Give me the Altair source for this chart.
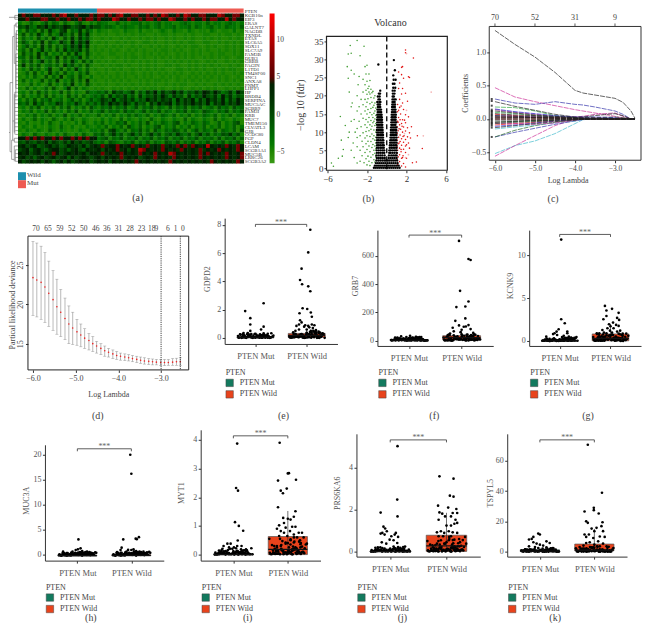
import altair as alt
import pandas as pd

SERIF = "Liberation Serif"
CW, CH = 158, 205
def origin(col, row):
    return 8 + CW * col, 8 + CH * row

ONE = alt.Data(values=[{"a": 1}])
def T(s, X, Y, ox, oy, size=8, color="#444", angle=0, align="center"):
    return alt.Chart(ONE).mark_text(text=s, font=SERIF, fontSize=size, color=color, angle=angle,
                                    align=align, baseline="middle").encode(
        x=alt.value(X - ox), y=alt.value(Y - oy))
def frame(x0, x1, y0, y1, ox, oy, color="#222", w=1.0):
    return alt.Chart(ONE).mark_rect(fill=None, stroke=color, strokeWidth=w).encode(
        x=alt.value(x0 - ox), x2=alt.value(x1 - ox), y=alt.value(y0 - oy), y2=alt.value(y1 - oy))

# ---------- (a) heat map ----------
GENES = ["KGB10n","EIF3","ERAS","GALNT7","NAGDB","TXNDL","ETAS","SLC6A5","SOX11","SLC7A9","FAM3B","DUB3",
         "GBBB","FAGIN","L1TD1","TM4SF00","SNC1","ANXA8","PNMT","LHFP1","HP","BRDB4","SERPINA","MUC5AC",
         "SGBB9","FAM3I","KRB","MUC7","TMEM150","CLVATL3","GJB","CCDC80","FGF","CLDN4","LCAM","SCGB1A1",
         "MUC5B","LRRC26","SCGB3A2"]
HEAT = [
 "7877887778 7897787778 7887878977 8877878798 7787987788 7779877887",
 "7787778877 8778778788 7877798778 7787887877 9877878778 7887797877",
 "3124213524 3142135213 2433224232 3342323423 3223432332 4233234323",
 "5464365746 5576456746 5534432343 3243423423 3423342432 3423243324",
 "3153415263 2561436253 1322122132 2131221232 1322132122 1321221312",
 "2514263152 3642516362 1212112121 2122112122 1211212112 2112122121",
 "1423152416 3152626352 1121211212 1121212112 1211212112 1212112121",
 "2531426153 2642736472 1212112121 2112212112 1212122112 2112121212",
 "1352416251 4253647361 2112121211 2121121212 1121212211 2121121212",
 "2415136241 5263546251 2121212112 1212112122 1212112121 2112121212",
 "1524162513 2415263152 1211221121 2112121212 1121212121 1212211212",
 "3415261342 6152436141 2121112121 2212112121 2121212112 1212121122",
 "1425136241 5142631524 1212121121 2121212112 1212121211 2121121212",
 "2614251342 4163524152 1121212212 1121212112 2121121212 1212112121",
 "1315241361 2514263141 2112121211 2121212121 1122121212 1121212211",
 "1241513162 4152314251 1212112121 2112121212 1212112121 2121211212",
 "2131421514 2613415213 1121212121 1212121121 2121121212 1212121121",
 "1413125142 6132514161 2112121212 1121212212 1121212121 2112121212",
 "1214131251 3142613152 1212112121 2121212112 1212211212 1121212121",
 "2141312415 2136141321 2121121212 1212122121 1212112121 2121121212",
 "2314152413 2514132153 3435264534 6253647364 5746354647 6475346375",
 "1413241514 2315241423 4352635463 5263546475 3645263547 5463746354",
 "3142514352 3413524135 3465473564 6354756465 6374657364 7564736475",
 "4352635243 6524364253 5364756475 3645264756 7364657564 7365746575",
 "2314251324 1425132415 3243524352 3524352432 5243524352 3425342534",
 "1324132514 2314251324 2352434253 4235243524 3243524325 4324352435",
 "2132413241 3251324132 2413241324 2432413243 2413241324 3241324132",
 "1312413214 2131421321 2131321413 2132142132 1321413213 2141321321",
 "2131213142 1312131421 3241324351 3242513243 2451324324 3124132451",
 "1321312132 1421312132 2324132415 3241324513 2413241324 1324132413",
 "2132132142 1321213213 3241563241 4352415324 3542413524 3251432415",
 "1321421321 3142131421 4352463524 6352463524 5364352463 5243546352",
 "7787878778 7877878787 7345243524 3524352435 2435243524 3425243524",
 "5465465746 5464756456 4342543243 5243524325 4352435243 5243524352",
 "6756745675 6457665746 7686778767 8676867686 7687868767 9767687687",
 "5674675467 7564675476 6757678675 7698767687 6768767686 7678767687",
 "7675675768 7567676757 7686767876 7687678767 9876767687 8767687678",
 "6756467567 5674756765 6757676867 6756768767 6876767687 6767687678",
 "7567675764 6757567675 6767576767 6876767676 8767676767 6876767687",
]
LEVELS = {"1": -5.0, "2": -4.4, "3": -3.4, "4": -1.8, "5": -0.2, "6": 2.0, "7": 4.6, "8": 6.6, "9": 10.0}
heat_rows = []
for r, row in enumerate(HEAT):
    s = row.replace(" ", "")
    for c, ch in enumerate(s):
        heat_rows.append({"c": c, "c1": c + 1.12, "r": r, "r1": r + 1.08, "v": LEVELS[ch]})
heat_df = pd.DataFrame(heat_rows)

DEND = [
 (0,17,1,1),(11,17,0.5,0.5),(11,17,1.5,1.5),(11,11,0.5,1.5),(2,2,18,36),(2,7,18,18),(0,2,31,31),(7,7,6,33),
 (7,10,6,6),(7,10,28,28),(10,10,3,13),(10,15,3,3),(10,13,13,13),(13,17,2.5,2.5),(13,17,3.5,3.5),(13,13,2.5,3.5),
 (13,13,5,22),(13,17,4.5,4.5),(13,17,5.5,5.5),(13,17,6.5,6.5),(13,17,7.5,7.5),(14,17,8.5,8.5),(14,17,9.5,9.5),(14,14,4.5,9.5),
 (13,17,10.5,10.5),(13,17,11.5,11.5),(13,17,12.5,12.5),(13,17,13.5,13.5),(13,17,14.5,14.5),(13,17,15.5,15.5),
 (13,17,16.5,16.5),(13,17,17.5,17.5),(13,17,18.5,18.5),(13,17,19.5,19.5),(13,13,10.5,19.5),
 (10,10,21,31),(11,17,20.5,20.5),(11,17,21.5,21.5),
 (11,17,22.5,22.5),(11,17,23.5,23.5),(11,17,24.5,24.5),(11,17,25.5,25.5),(12,17,26.5,26.5),(12,17,27.5,27.5),(11,17,28.5,28.5),
 (11,17,29.5,29.5),(12,17,30.5,30.5),(12,17,31.5,31.5),(11,11,20.5,31.5),
 (2,5,36,36),(5,5,33,38),(5,10,33,33),(5,10,38,38),(10,17,32.5,32.5),(10,17,33.5,33.5),(10,10,32.5,33.5),
 (10,17,34.5,34.5),(12,17,35.5,35.5),(12,17,36.5,36.5),(12,17,37.5,37.5),(12,17,38.5,38.5),(12,12,35.5,38.5),(10,10,34.5,38.5),
]
ANNOT = [{"a": 0, "b": 21, "col": "#1d8fae"}, {"a": 21, "b": 60, "col": "#ee5a52"}]
SWATCH = [{"y": 172, "y2": 180, "col": "#1d8fae"}, {"y": 180, "y2": 188, "col": "#ee5a52"}]

def panel_a():
    ox, oy = origin(0, 0)
    HX0, HX1, HY0, HY1 = 17, 243, 13, 163
    sx = alt.Scale(domain=[0, 60], range=[HX0 - ox, HX1 - ox], nice=False, zero=False)
    sy = alt.Scale(domain=[0, 39], range=[HY0 - oy, HY1 - oy], nice=False, zero=False)
    heat = alt.Chart(heat_df).mark_rect(strokeWidth=0).encode(
        x=alt.X("c:Q", scale=sx, axis=None), x2="c1:Q",
        y=alt.Y("r:Q", scale=sy, axis=None), y2="r1:Q",
        color=alt.Color("v:Q", scale=alt.Scale(domain=[-6.5, 5, 13.5], range=["#3a9a18", "#000000", "#ff0000"]),
                        legend=alt.Legend(orient="none", legendX=269 - ox, legendY=HY0 - oy, title=None,
                                          direction="vertical", gradientLength=150, gradientThickness=5,
                                          gradientStrokeWidth=0, values=[-5, 0, 5, 10], labelFont=SERIF,
                                          labelFontSize=7.5, labelColor="#444", padding=0)))
    ann = alt.Chart(pd.DataFrame(ANNOT)).mark_rect().encode(
        x=alt.X("a:Q", scale=sx, axis=None), x2="b:Q",
        y=alt.value(8 - oy), y2=alt.value(12.2 - oy),
        fill=alt.Fill("col:N", scale=None))
    lab = alt.Chart(pd.DataFrame({"g": GENES, "r": [i + 0.5 for i in range(len(GENES))]})).mark_text(
        font=SERIF, fontSize=5, align="left", baseline="middle", color="#333").encode(
        x=alt.value(244 - ox), y=alt.Y("r:Q", scale=sy, axis=None), text="g:N")
    dn = pd.DataFrame(DEND, columns=["x1", "x2", "y1", "y2"])
    dsx = alt.Scale(domain=[0, 17], range=[8 - ox, 17 - ox], nice=False, zero=False)
    dend = alt.Chart(dn).mark_rule(color="#666", strokeWidth=0.6).encode(
        x=alt.X("x1:Q", scale=dsx, axis=None), x2="x2:Q",
        y=alt.Y("y1:Q", scale=sy, axis=None), y2="y2:Q")
    sw = alt.Chart(pd.DataFrame(SWATCH)).mark_rect().encode(
        x=alt.value(17 - ox), x2=alt.value(25 - ox),
        y=alt.Y("y:Q", scale=alt.Scale(domain=[8, 8 + CH], range=[0, CH], nice=False, zero=False), axis=None),
        y2="y2:Q", fill=alt.Fill("col:N", scale=None))
    return (alt.layer(heat, ann, lab, dend, sw, T("PTEN", 244, 10.5, ox, oy, size=5, align="left", color="#333"),
                      T("Wild", 26, 175, ox, oy, size=7, align="left"), T("Mut", 26, 183, ox, oy, size=7, align="left"),
                      T("(a)", 137, 198, ox, oy, size=10))
            .resolve_scale(x="independent", y="independent", color="independent", fill="independent")
            .properties(width=CW, height=CH))

# ---------- (b) volcano ----------
VOL_BLACK = [
 (0.2,[-1.3,-1.1,-.9,-.7,-.5,-.3,-.1,.1,.3,.5,.7,.9,1.1,1.3]),
 (0.8,[-1.2,-1.0,-.8,-.6,-.4,-.2,0,.2,.4,.6,.8,1.0,1.2]),
 (1.5,[-1.1,-.9,-.7,-.5,-.3,-.1,.1,.3,.5,.7,.9,1.1]),
 (2.2,[-1.05,-.85,-.65,-.45,-.25,-.08,.08,.25,.45,.65,.85,1.05]),
 (2.9,[-1.0,-.8,-.6,-.4,-.2,.2,.4,.6,.8,1.0]),
 (3.6,[-1.05,-.85,-.65,-.45,-.22,.22,.45,.65,.85,1.0]),
 (4.3,[-1.0,-.8,-.6,-.4,-.25,.25,.4,.6,.8,1.02]),
 (5.0,[-1.02,-.82,-.62,-.42,-.26,.27,.42,.62,.82,.98]),
 (5.7,[-1.0,-.84,-.66,-.48,-.3,.3,.46,.64,.82,1.0]),
 (6.4,[-.98,-.8,-.62,-.44,-.3,.32,.48,.66,.84,.98]),
 (7.1,[-1.0,-.84,-.66,-.5,-.34,.34,.5,.66,.82,1.0]),
 (7.8,[-.98,-.82,-.64,-.46,-.35,.36,.52,.68,.84,.96]),
 (8.5,[-1.0,-.84,-.68,-.52,-.38,.38,.52,.68,.82,1.0]),
 (9.2,[-.96,-.8,-.64,-.5,-.38,.4,.54,.7,.84,.98]),
 (9.9,[-.98,-.82,-.66,-.52,-.4,.42,.56,.7,.86,.98]),
 (10.6,[-1.0,-.84,-.68,-.54,-.42,.42,.56,.7,.84,.96]),
 (11.3,[-.96,-.82,-.68,-.54,-.44,.44,.58,.72,.86,.98]),
 (12.0,[-.98,-.84,-.7,-.56,-.45,.46,.6,.74,.88]),
 (12.7,[-.96,-.82,-.68,-.56,-.47,.46,.6,.74,.88,.96]),
 (13.4,[-.98,-.84,-.7,-.58,-.48,.48,.62,.76,.9]),
 (14.1,[-.94,-.82,-.7,-.58,-.5,.5,.62,.76,.9]),
 (14.8,[-.96,-.84,-.72,-.6,-.52,.5,.64,.78,.92]),
 (15.5,[-.92,-.8,-.68,-.56,.52,.64,.78,.9]),
 (16.2,[-.94,-.82,-.7,-.58,.54,.66,.8,.88]),
 (16.9,[-.9,-.78,-.66,.54,.68,.82]),
 (17.6,[-.92,-.8,-.68,.56,.7,.84]),
 (18.3,[-.96,-.76,-.64,.58,.72,.8]),
 (19.0,[-.84,-.7,.58,.74,.9]),
 (19.8,[-.9,-.72,.6,.72]),
 (20.6,[-.8,-.68,.62,.78]),
 (21.4,[-.66,.6,.8]),
 (22.2,[.66,.86]),(23.3,[.62,.78]),(24.4,[.7,.9]),(25.6,[.66]),(27.0,[.82]),(28.6,[-.85]),(29.8,[.72]),
]
VOL_GREEN = [(-5.6,1.5),(-5.4,.6),(-4.9,2.8),(-4.5,3.4),(-4.4,5.2),(-4.6,7.8),(-4.7,14.3),(-4.2,11.8),(-3.9,8.5),(-3.8,10),(-3.6,13),
 (-4.0,28),(-3.9,24.8),(-3.9,31.5),(-3.6,31.7),(-3.7,33.8),(-3.0,35.2),(-2.3,33.6),(-2.7,31),(-2.8,25.3),(-3.6,27),(-3.3,26),(-3.8,21),(-3.5,18),(-3.6,17),
 (-3.3,13.5),(-3.2,10),(-3.4,7),(-3.6,5),(-3.3,3),(-3.0,1.5),(-3,6),(-3,8.5),(-3,11),(-3,15.8),(-3,20),(-2.9,23),(-2.8,17),(-2.8,13),(-2.7,9),(-2.7,5),(-2.7,2),
 (-2.6,19),(-2.6,15),(-2.6,11.5),(-2.5,7.5),(-2.5,3.5),(-2.4,24.5),(-2.4,21),(-2.4,17.5),(-2.4,13.8),(-2.4,9.8),(-2.4,6),(-2.3,1.6),
 (-2.2,28),(-2.2,23),(-2.2,19),(-2.2,15.8),(-2.2,12),(-2.2,8.4),(-2.2,4.4),(-2.1,26),(-2.1,21.5),(-2.1,17),(-2.1,13.5),(-2.1,10.2),(-2.1,6.8),(-2.1,2.7),
 (-2,28.4),(-2,24),(-2,20.4),(-2,18.2),(-2,15),(-2,11.3),(-2,9),(-2,5.2),(-2,1),(-1.9,22),(-1.9,19.2),(-1.9,16.2),(-1.9,12.8),(-1.9,7.5),(-1.9,3.4),
 (-1.8,26),(-1.8,22.6),(-1.8,21),(-1.8,14),(-1.8,10.4),(-1.8,6.2),(-1.8,2),(-1.7,24.2),(-1.7,20.5),(-1.7,17.8),(-1.7,15.4),(-1.7,12),(-1.7,8.8),(-1.7,4.6),(-1.7,.8),
 (-1.6,21.8),(-1.6,19.5),(-1.6,16.5),(-1.6,13.2),(-1.6,10.8),(-1.6,7.4),(-1.6,3.1),(-1.5,20.8),(-1.5,18.2),(-1.5,14.8),(-1.5,11.6),(-1.5,9.5),(-1.5,5.8),(-1.5,1.6),
 (-1.4,21.2),(-1.4,16.8),(-1.4,14),(-1.4,12.6),(-1.4,8.2),(-1.4,6.6),(-1.4,3.8),(-1.3,19.4),(-1.3,17.4),(-1.3,15.2),(-1.3,13),(-1.3,10.6),(-1.3,9),(-1.3,5),(-1.3,2.4),
 (-1.2,20),(-1.2,18),(-1.2,15.8),(-1.2,13.6),(-1.2,11.8),(-1.2,7.8),(-1.2,6.2),(-1.2,4.2),(-1.2,1.8),(-1.1,16.6),(-1.1,14.6),(-1.1,12.4),(-1.1,10),(-1.1,8.6),(-1.1,7),(-1.1,5.4),(-1.1,3.2)]
VOL_RED = [(1.9,32.6),(1.9,31.8),(2.7,30.4),(1.5,27.8),(1.6,28),(1.5,25.8),(1.2,26.5),(2.3,25),(2.2,25.2),(1.7,24.8),(1.3,23.5),(1.6,22),(1.2,22),(1.5,20.5),(1.9,20.7),
 (2.1,18.5),(1.3,19),(1.6,18),(1.1,17.6),(1.3,16.8),(1.7,16.2),(1.1,15.6),(1.4,15),(1.9,14.8),(2.2,14.2),(1.2,14),(1.6,13.4),(1.1,13),(1.5,12.4),(1.9,12.6),
 (1.3,12),(1.05,11.5),(1.7,11.4),(2.1,11.2),(2.5,11.5),(1.4,10.8),(1.15,10.4),(1.9,10.3),(1.6,10),(2.3,9.8),(3.1,9),(1.05,9.6),(1.35,9.2),(1.75,9),(2.1,8.7),
 (1.2,8.6),(1.5,8.2),(1.9,8),(1.05,7.8),(1.35,7.4),(1.7,7.2),(2.2,7),(1.15,6.8),(1.5,6.4),(1.9,6.2),(1.05,6),(1.3,5.6),(1.7,5.3),(2.3,5.6),(3.6,5.5),
 (1.1,5),(1.45,4.6),(1.9,4.4),(1.05,4.2),(1.3,3.8),(1.65,3.5),(1.15,3.2),(1.5,2.8),(2.0,2.8),(1.05,2.4),(1.3,1.9),(1.7,1.4),(2.6,1.6),(3.0,1.8),(1.1,1),(1.5,.7),(1.9,.4),
 (1.2,16),(1.45,17.2),(1.25,10.9),(1.55,11.6),(1.8,13.3),(2.0,6.5),(2.4,8.4),(1.6,3),(1.25,7),(1.45,5.2),(1.65,8.8),(1.35,13.4),(1.15,12.7)]
VOL_PALE = [(4.5,21),(3.7,9),(2.0,16),(1.8,9.6),(2.2,3.8),(1.9,3),(2.0,31.6)]

def panel_b():
    ox, oy = origin(2, 0)
    X0, X1, Y0, Y1 = 326, 447, 36, 170
    sx = alt.Scale(domain=[-6.1, 6.13], range=[X0 - ox, X1 - ox], nice=False, zero=False)
    sy = alt.Scale(domain=[-0.47, 36.3], range=[Y1 - oy, Y0 - oy], nice=False, zero=False)
    black = [(x, y) for y, xs in VOL_BLACK for x in xs]
    ax = alt.Axis(values=[-6, -4, -2, 0, 2, 4, 6], title=None, grid=False, orient="bottom",
                  offset=(Y1 - oy) - CH, labelFont=SERIF, labelFontSize=9, labelColor="#333",
                  tickSize=2.5, tickColor="#333", domain=False, labelPadding=2, format="d", labelFlush=False)
    ay = alt.Axis(values=[0, 5, 10, 15, 20, 25, 30, 35], title=None, grid=False, orient="left",
                  offset=-(X0 - ox), labelFont=SERIF, labelFontSize=9, labelColor="#333", tickSize=2.5, tickColor="#333",
                  domain=False, labelPadding=1, labelFlush=False)
    def layer(pts, col, size):
        return alt.Chart(pd.DataFrame(pts, columns=["x", "y"])).mark_circle(color=col, size=size, opacity=1).encode(
            x=alt.X("x:Q", scale=sx, axis=ax), y=alt.Y("y:Q", scale=sy, axis=ay))
    v = alt.Chart(pd.DataFrame({"x": [0]})).mark_rule(color="black", strokeWidth=1.3, strokeDash=[5, 3]).encode(
        x=alt.X("x:Q", scale=sx), y=alt.value(Y0 - oy), y2=alt.value(Y1 - oy))
    return alt.layer(layer(VOL_GREEN, "#3d9b2e", 2.4), layer(VOL_RED, "#e01414", 2.4), layer(VOL_PALE, "#f5b5b5", 3),
                     layer(black, "#000000", 5.5), v, frame(X0, X1, Y0, Y1, ox, oy, w=1.2),
                     T("Volcano", 390, 23, ox, oy, size=10, color="#333"),
                     T("−log 10 (fdr)", 300, 105, ox, oy, size=10, color="#333", angle=270),
                     T("(b)", 368, 199, ox, oy, size=10)).properties(width=CW, height=CH)

# ---------- (c) coefficient paths ----------
PATH_X = [-6, -5.5, -5, -4.5, -4, -3.8, -3.5, -3, -2.8, -2.6, -2.5]
PATH_MAIN = [
 ("#ee1111", [.07, .05, .04, .02, .01, .01, .01, 0, 0, 0, 0]),
 ("#33aa44", [.18, .17, .12, .05, .02, .01, 0, 0, 0, 0, 0]),
 ("#cc3399", [.47, .33, .26, .20, .14, .12, .09, .04, .01, 0, 0]),
 ("#3333aa", [.30, .24, .22, .26, .22, .21, .18, .12, .07, 0, 0]),
 ("#44bbcc", [-.52, -.40, -.33, -.22, -.07, -.01, 0, 0, 0, 0, 0]),
 ("#cc3399", [-.56, -.40, -.25, -.10, 0, 0, 0, 0, 0, 0, 0]),
 ("#3333aa", [-.27, -.20, -.14, -.08, -.03, -.01, 0, 0, 0, 0, 0]),
 ("#226622", [-.27, -.17, -.10, -.05, 0, 0, 0, 0, 0, 0, 0]),
 ("#aa2288", [.14, .10, .07, .04, .03, .04, .07, .09, .04, 0, 0]),
 ("#2222cc", [.15, .11, .08, .05, .03, .03, .03, .02, 0, 0, 0]),
 ("#33aa44", [.10, .08, .05, .03, .02, .01, 0, 0, 0, 0, 0]),
 ("#ee1111", [-.09, -.07, -.05, -.03, -.01, 0, 0, 0, 0, 0, 0]),
 ("#2222cc", [.05, .04, .03, .03, .02, .02, .01, .01, 0, 0, 0]),
 ("#33aa44", [-.05, -.04, -.03, -.02, -.01, 0, 0, 0, 0, 0, 0]),
 ("#2222cc", [-.11, -.09, -.06, -.03, -.01, 0, 0, 0, 0, 0, 0]),
 ("#ee1111", [.03, .03, .02, .02, .01, .01, 0, 0, 0, 0, 0]),
 ("#44bbcc", [-.15, -.12, -.09, -.06, -.03, 0, 0, 0, 0, 0, 0]),
 ("#cc3399", [-.06, -.07, -.08, -.06, -.02, 0, 0, 0, 0, 0, 0]),
 ("#ee1111", [0, 0, 0, 0, 0, 0, 0, 0, 0, 0, 0]),
 ("#222222", [.26, .19, .13, .07, .03, .03, .05, .08, .05, 0, 0]),
 ("#222222", [.12, .09, .06, .04, .02, .02, .02, .03, .02, 0, 0]),
 ("#222222", [.08, .06, .05, .03, .02, .01, .01, 0, 0, 0, 0]),
 ("#222222", [-.03, -.03, -.02, -.01, 0, 0, 0, 0, 0, 0, 0]),
 ("#222222", [-.07, -.05, -.04, -.02, -.01, 0, 0, 0, 0, 0, 0]),
 ("#222222", [-.13, -.10, -.07, -.04, -.02, 0, 0, 0, 0, 0, 0]),
 ("#222222", [.02, .02, .02, .01, .01, 0, 0, 0, 0, 0, 0]),
 ("#222222", [.01, .01, .01, .01, 0, 0, 0, 0, 0, 0, 0]),
 ("#222222", [.05, .04, .03, .02, .01, 0, 0, 0, 0, 0, 0]),
 ("#222222", [-.01, -.01, -.01, 0, 0, 0, 0, 0, 0, 0, 0]),
 ("#222222", [.035, .025, .02, .015, .01, 0, 0, 0, 0, 0, 0]),
 ("#222222", [-.05, -.035, -.025, -.015, 0, 0, 0, 0, 0, 0, 0]),
 ("#222222", [1.33, 1.12, .93, .70, .43, .39, .36, .31, .25, .12, .01]),
]
RUG_Y = [.30, .27, .20, .14, .12, .10, .08, .06, .04, .02, 0, -.02, -.04, -.06, -.08, -.10, -.13, -.27]
C_TOP = [(-6, "70"), (-5, "52"), (-4, "31"), (-3, "9")]

def panel_c():
    ox, oy = origin(3, 0)
    X0, X1, Y0, Y1 = 489, 641, 26, 160
    sx = alt.Scale(domain=[-6.143, -2.35], range=[X0 - ox, X1 - ox], nice=False, zero=False)
    sy = alt.Scale(domain=[-0.62, 1.39], range=[Y1 - oy, Y0 - oy], nice=False, zero=False)
    rows = []
    for i, (col, ys) in enumerate(PATH_MAIN):
        for x, y in zip(PATH_X, ys):
            rows.append({"x": x, "y": y, "id": f"s{i:02d}", "col": col})
    ax = alt.Axis(values=[-6, -5.5, -5, -4.5, -4, -3.5, -3, -2.5], title=None, grid=False, orient="bottom", offset=(Y1 - oy) - CH,
                  labelFont=SERIF, labelFontSize=7.5, labelColor="#444", tickSize=2.5, tickColor="#333", domain=False,
                  labelPadding=2, format=".1f", labelFlush=False, labelOverlap=False)
    ay = alt.Axis(values=[-.5, 0, .5, 1], title=None, grid=False, orient="left", offset=-(X0 - ox), labelFont=SERIF,
                  labelFontSize=8, labelColor="#444", tickSize=2.5, tickColor="#333", domain=False, labelPadding=1,
                  format=".1f", labelFlush=False)
    lines = alt.Chart(pd.DataFrame(rows)).mark_line(strokeWidth=0.7, strokeDash=[5, 1]).encode(
        x=alt.X("x:Q", scale=sx, axis=ax), y=alt.Y("y:Q", scale=sy, axis=ay),
        detail="id:N", stroke=alt.Stroke("col:N", scale=None))
    rug = alt.Chart(pd.DataFrame({"y": RUG_Y})).mark_square(color="black", size=4).encode(
        x=alt.value(491.5 - ox), y=alt.Y("y:Q", scale=sy))
    top = pd.DataFrame(C_TOP, columns=["x", "t"])
    tick = alt.Chart(top).mark_rule(color="#333", strokeWidth=0.8).encode(
        x=alt.X("x:Q", scale=sx), y=alt.value(23 - oy), y2=alt.value(26 - oy))
    ttxt = alt.Chart(top).mark_text(font=SERIF, fontSize=8, color="#444").encode(
        x=alt.X("x:Q", scale=sx), y=alt.value(18 - oy), text="t:N")
    return alt.layer(lines, rug, tick, ttxt, frame(X0, X1, Y0, Y1, ox, oy, color="#333"),
                     T("Coefficients", 466, 93, ox, oy, size=8, angle=270),
                     T("Log Lambda", 568, 181, ox, oy, size=8),
                     T("(c)", 553, 199, ox, oy, size=10)).properties(width=CW, height=CH)

# ---------- (d) cross-validation ----------
CV_X = [-6.0,-5.91,-5.81,-5.72,-5.63,-5.53,-5.44,-5.35,-5.25,-5.16,-5.07,-4.97,-4.88,-4.79,-4.69,-4.6,-4.51,-4.41,-4.32,-4.23,
        -4.13,-4.04,-3.95,-3.85,-3.76,-3.67,-3.57,-3.48,-3.39,-3.29,-3.2,-3.11,-3.01,-2.92,-2.83,-2.73,-2.64,-2.55]
CV_MEAN = [23.4,23.1,22.8,22.2,21.4,20.6,19.7,19.0,18.2,17.5,17.0,16.5,16.1,15.7,15.4,15.0,14.7,14.4,14.1,13.9,
           13.7,13.5,13.4,13.3,13.2,13.1,13.0,12.9,12.8,12.75,12.7,12.65,12.6,12.6,12.6,12.65,12.7,12.7]
CV_HI = [28.0,27.8,27.4,26.6,25.5,24.3,23.2,21.9,20.8,19.8,19.0,18.1,17.5,16.9,16.3,15.9,15.3,15.0,14.7,14.4,
         14.2,14.0,13.8,13.7,13.6,13.5,13.4,13.3,13.2,13.1,13.05,13.0,13.0,13.0,13.0,13.1,13.15,13.2]
CV_LO = [18.6,18.4,18.1,17.7,17.2,16.7,16.2,15.9,15.5,15.0,14.9,14.8,14.6,14.4,14.2,14.0,13.8,13.6,13.4,13.3,
         13.1,13.0,12.9,12.85,12.8,12.7,12.6,12.5,12.4,12.35,12.3,12.3,12.2,12.2,12.25,12.25,12.25,12.25]
D_TOP_X = [-5.93,-5.65,-5.37,-5.09,-4.81,-4.53,-4.27,-4.0,-3.73,-3.46,-3.22,-3.11,-2.84,-2.66,-2.49]
D_TOP_T = ["70","65","59","52","50","46","36","31","28","23","18","9","6","1","0"]
D_VLINES = [-3.0, -2.55]

def panel_d():
    ox, oy = origin(0, 1)
    X0, X1, Y0, Y1 = 27, 188, 236, 370
    sx = alt.Scale(domain=[-6.117, -2.353], range=[X0 - ox, X1 - ox], nice=False, zero=False)
    sy = alt.Scale(domain=[11.66, 28.68], range=[Y1 - oy, Y0 - oy], nice=False, zero=False)
    df = pd.DataFrame({"x": CV_X, "m": CV_MEAN, "hi": CV_HI, "lo": CV_LO})
    ax = alt.Axis(values=[-6, -5.5, -5, -4.5, -4, -3.5, -3, -2.5], title=None, grid=False, orient="bottom", offset=(Y1 - oy) - CH,
                  labelFont=SERIF, labelFontSize=8, labelColor="#444", tickSize=2.5, tickColor="#333", domain=False,
                  labelPadding=2, format=".1f", labelFlush=False, labelOverlap=False)
    ay = alt.Axis(values=[15, 20, 25], title=None, grid=False, orient="left", offset=-(X0 - ox), labelFont=SERIF,
                  labelFontSize=8, labelColor="#444", tickSize=2.5, tickColor="#333", domain=False, labelPadding=1,
                  labelAngle=270, labelAlign="center", labelBaseline="bottom", labelFlush=False)
    bars = alt.Chart(df).mark_rule(color="#9a9a9a", strokeWidth=0.7).encode(
        x=alt.X("x:Q", scale=sx, axis=ax), y=alt.Y("hi:Q", scale=sy, axis=ay), y2="lo:Q")
    capH = alt.Chart(df).mark_tick(color="#888", orient="horizontal", size=3, thickness=0.6).encode(
        x=alt.X("x:Q", scale=sx), y=alt.Y("hi:Q", scale=sy))
    capL = alt.Chart(df).mark_tick(color="#888", orient="horizontal", size=3, thickness=0.6).encode(
        x=alt.X("x:Q", scale=sx), y=alt.Y("lo:Q", scale=sy))
    pts = alt.Chart(df).mark_circle(color="#ee2222", size=2.5, opacity=1).encode(
        x=alt.X("x:Q", scale=sx), y=alt.Y("m:Q", scale=sy))
    vl = alt.Chart(pd.DataFrame({"x": D_VLINES})).mark_rule(color="#111", strokeWidth=0.8, strokeDash=[1.2, 1]).encode(
        x=alt.X("x:Q", scale=sx), y=alt.value(Y0 - oy), y2=alt.value(Y1 - oy))
    top = alt.Chart(pd.DataFrame({"x": D_TOP_X, "t": D_TOP_T})).mark_text(font=SERIF, fontSize=7.5, color="#444").encode(
        x=alt.X("x:Q", scale=sx), y=alt.value(228.5 - oy), text="t:N")
    return alt.layer(bars, capH, capL, pts, vl, top, frame(X0, X1, Y0, Y1, ox, oy, color="#222"),
                     T("Partical likelihood deviance", 12, 305, ox, oy, size=8, angle=270),
                     T("Log Lambda", 108, 395, ox, oy, size=8),
                     T("(d)", 97, 416, ox, oy, size=10)).properties(width=CW, height=CH)

# ---------- (e)-(k) box panels ----------
BASE_JIT = [-.32,.28,-.25,.05,.3,-.12,.18,-.3,.1,-.05,.24,-.2,.14,-.27,.02,.33,-.15,.08,-.34,.2,-.08,.26,-.22,.12,-.02,.31,-.18,.16,-.29,.06,.22,-.1,.29,-.24,0,.35,-.14,.11,-.33,.19]
GROUPS = ["PTEN Mut", "PTEN Wild"]
BOX_COLORS = ["#127a5e", "#e8431c"]

PANELS = [
 dict(gene="GDPD2", cell=(1, 1), X=(224, 337), Y=(218, 344), dom=(-.424, 8.47), ticks=[0, 2, 4, 6, 8], br=8.03, title_x=207, leg_y=369, cap=(283, 416),
      boxes=[(0, .05, .07, 0, .1), (.05, .18, .32, 0, .6)],
      mut=[(-.2,1.9),(-.1,1.4),(-.1,.95),(.16,2.45),(.16,.8),(.11,.6),(-.1,.5)],
      wild=[(.07,7.65),(.03,6.05),(-.1,4.9),(-.13,4.1),(-.09,3.8),(.03,3.65),(.07,3.3),(-.08,2.1),(.01,2.05),(.08,1.8),(-.14,1.75),(.1,1.5),(-.13,1.25),(-.1,1.1),(-.15,.95),(-.2,.85),(-.03,.9),(.03,.85),(.1,.95),(.15,.9),(-.05,.8),(.05,.75),(.12,.7),(-.15,.6),(0,.6),(.18,.55),(-.22,.5)],
      mb=[.02,.05,.1,.15,.03,.2,.08,.25,.12,.01,.3,.06,.18,.04,.22,.09,.35,.02,.14,.07,.28,.11,.03,.17,.05,.33,.01,.13,.24,.06,.1,.19,.04,.27,.02,.16,.08,.21,.03,.12],
      wb=[.03,.1,.2,.05,.3,.15,.4,.02,.25,.08,.35,.12,.45,.04,.18,.28,.06,.5,.13,.01,.22,.38,.09,.16,.02,.32,.07,.42,.11,.19,.03,.27,.14,.06,.36,.01,.23,.1,.05,.17]),
 dict(gene="GRB7", cell=(2, 1), X=(377, 493), Y=(230, 346), dom=(-37.4, 781), ticks=[0, 200, 400, 600], br=746, title_x=356, leg_y=369, cap=(434, 416),
      boxes=[(0, 3, 8, 0, 15), (5, 21, 35, 0, 70)],
      mut=[(-.15,30),(.02,34),(.13,28),(-.05,25),(.2,26),(-.22,22)],
      wild=[(-.05,705),(.13,577),(.17,570),(-.03,352),(.13,277),(-.1,237),(.07,241),(-.12,140),(.07,157),(-.17,91),(-.05,108),(.13,110),(.04,98),(.17,82),(-.15,66),(0,77),(.08,100),(-.22,50),(.22,55),(-.02,60)],
      mb=[1,4,10,18,2,8,22,5,14,1,12,3,25,7,16,2,9,20,4,11,1,6,17,3,13,2,8,21,5,10,1,15,3,7,19,2,6,12,4,9],
      wb=[2,8,20,35,5,14,40,3,25,10,45,1,18,30,6,12,38,2,22,7,16,42,4,28,9,33,1,13,24,5,36,11,19,3,27,8,15,43,6,21]),
 dict(gene="KCNK9", cell=(3, 1), X=(529, 641), Y=(230, 346), dom=(-.58, 12.9), ticks=[0, 5, 10], br=12.4, title_x=511, leg_y=369, cap=(588, 416),
      boxes=[(0, 0, .05, 0, .1), (.02, .3, .82, 0, 2.0)],
      mut=[(.03,11.8),(.03,2.53),(.1,2.06),(-.02,1.36),(-.06,1.09),(-.13,.8),(.15,1.09),(.15,.9),(-.1,.9),(-.05,.7),(.08,.6)],
      wild=[(-.11,4.08),(.03,3.74),(-.08,3.54),(.16,3.27),(-.08,2.9),(.13,2.68),(-.14,2.53),(.17,2.45),(.05,2.14),(-.03,1.95),(.11,1.87),(0,1.71),(.16,1.75),(-.06,1.48),(.06,1.48),(-.16,1.28),(.19,1.2),(-.01,1.2),(-.13,.97),(.13,1.09),(.03,.97),(-.22,.9),(.24,.85)],
      mb=[.02,.1,.25,.4,.05,.15,.5,.03,.3,.08,.2,.01,.35,.12,.04,.45,.07,.18,.02,.28,.09,.13,.06,.22,.01,.33,.11,.04,.17,.26,.03,.08,.38,.05,.14,.02,.21,.1,.06,.16],
      wb=[.05,.2,.4,.7,.1,.3,.8,.03,.5,.15,.6,.02,.35,.9,.08,.25,.75,.12,.45,.01,.65,.18,.55,.06,.28,.85,.1,.38,.04,.22,.7,.14,.48,.02,.32,.6,.09,.42,.16,.26]),
 dict(gene="MUC3A", cell=(0, 2), X=(44, 163), Y=(445, 561), dom=(-1.2, 22), ticks=[0, 5, 10, 15, 20], br=21.2, title_x=26, leg_y=584, cap=(90, 618),
      boxes=[(-.3, -.2, -.1, -.3, 0), (-.25, -.15, -.05, -.3, .05)],
      mut=[(.02,3.05),(.06,1.26),(.01,1.06),(-.03,.93),(.09,.73),(-.09,.6),(.15,.53)],
      wild=[(-.02,20),(0,16.2),(-.15,3.05),(.14,3.5),(.08,3.2),(.1,3.1),(-.18,1.4),(-.2,.93),(0,.93),(.04,1.06),(.09,.73),(-.09,.6),(.15,.6),(-.06,.95)],
      mb=[-.1,.1,.3,.5,0,.2,.6,-.2,.4,.05,.25,-.15,.35,.15,-.05,.45,.08,.28,-.1,.18,.02,.38,-.12,.12,.22,-.02,.32,.07,-.18,.16,.42,.01,.27,-.08,.11,.36,-.03,.19,.06,.24],
      wb=[-.1,.1,.35,.6,0,.2,.5,-.2,.45,.05,.25,-.15,.3,.15,-.05,.55,.08,.4,-.1,.18,.02,.33,-.12,.12,.22,-.02,.38,.07,-.18,.16,.28,.01,.48,-.08,.11,.36,-.03,.19,.06,.24]),
 dict(gene="MYT1", cell=(1, 2), X=(200, 320), Y=(430, 561), dom=(-.21, 4.35), ticks=[0, 1, 2, 3, 4], br=4.14, title_x=181, leg_y=584, cap=(247, 618),
      boxes=[(0, 0, .03, 0, .05), (0, .18, .63, 0, 1.52)],
      mut=[(.07,3.87),(.05,2.32),(.085,2.23),(.03,1.13),(.1,1),(.18,.83),(.08,.49),(-.11,.38),(-.05,.38),(-.18,.3),(.15,.3),(.01,.25),(-.2,.2),(.07,.3),(-.08,.25)],
      wild=[(-.15,3.9),(.02,2.84),(0,2.83),(.15,2.61),(-.18,2.58),(-.02,2.3),(-.13,2.23),(-.09,2.14),(-.18,1.65),(.14,1.51),(0,1.25),(-.085,1.28),(.11,1.32),(.05,1.22),(-.16,1.02),(-.07,1.1),(.08,.97),(-.04,.94),(.14,.97),(-.2,.9),(-.13,.82),(.2,.76),(.26,.76),(.04,.82),(-.07,.76),(.11,.7),(-.16,.65),(-.01,.65),(.17,.6),(-.1,.47),(.05,.53),(-.04,.42),(.11,.42),(-.13,.3),(.23,.36),(.02,.25),(.14,.19),(-.2,.25),(-.085,.13),(.08,.13),(.2,.1),(-.01,.07)],
      mb=[.01,.03,.06,.1,.02,.05,.14,0,.08,.02,.12,.04,.18,.01,.07,.22,.03,.09,0,.15,.05,.02,.11,.04,.2,.01,.06,.13,.03,.08,0,.16,.02,.1,.05,.01,.12,.04,.07,.03],
      wb=[.02,.1,.3,.5,.05,.2,.04,.01,.15,.08,.4,.03,.25,.06,.12,.35,.02,.18,.55,.07,.01,.28,.1,.45,.04,.22,.14,.02,.33,.09,.05,.16,.6,.03,.11,.38,.01,.2,.06,.13]),
 dict(gene="PRS6KA6", cell=(2, 2), X=(356, 480), Y=(434, 557), dom=(-.24, 5.62), ticks=[0, 2, 4], br=5.33, title_x=338, leg_y=584, cap=(402, 618),
      boxes=[(0, 0, .03, 0, .05), (.01, .27, .78, 0, 1.85)],
      mut=[(.13,5.03),(.125,2.48),(.13,1.68),(-.17,1.86),(-.12,1.19),(-.09,1.1),(-.14,.89),(-.06,.97),(.1,.89),(-.17,.86),(-.1,.81),(.14,.7),(-.01,.57),(.06,.54),(-.15,.44),(-.07,.38),(.125,.41),(.08,.81),(.02,.73)],
      wild=[(-.125,3.59),(.125,3.48),(.06,2.67),(.125,2.62),(-.15,2.19),(.03,2.1),(.175,2.03),(-.125,1.87),(-.075,1.81),(.11,1.84),(.19,1.84),(-.025,1.68),(.08,1.68),(.16,1.52),(-.14,1.52),(.19,1.37),(.14,1.33),(0,1.24),(.08,1.24),(-.1,.97),(-.17,.92),(-.04,.89),(.04,.97),(.11,.92),(.19,.89),(-.14,.73),(-.06,.73),(.08,.73),(-.1,.54),(.04,.54),(.14,.57),(-.17,.38),(-.025,.38),(.1,.33),(-.09,.22),(.2,.25),(.02,.13),(-.14,.13),(.14,.1)],
      mb=[.01,.03,.06,.12,.02,.05,.18,0,.09,.03,.14,.04,.22,.01,.07,.1,.03,.16,0,.12,.05,.02,.2,.04,.08,.01,.06,.13,.03,.24,0,.15,.02,.1,.05,.01,.17,.04,.07,.03],
      wb=[.02,.1,.3,.6,.05,.2,.04,.01,.15,.08,.45,.03,.25,.06,.12,.7,.02,.18,.5,.07,.01,.28,.1,.4,.04,.22,.14,.02,.33,.09,.05,.16,.55,.03,.11,.38,.01,.2,.06,.13]),
 dict(gene="TSPYL5", cell=(3, 2), X=(507, 627), Y=(434, 557), dom=(-3.3, 77.8), ticks=[0, 20, 40, 60], br=73.8, title_x=491, leg_y=584, cap=(555, 618),
      boxes=[(0, .3, 1.2, 0, 2.5), (.5, 1, 5, 0, 15)],
      mut=[(-.03,11.9),(0,11.3),(-.12,9.7),(-.2,8),(-.15,8.4),(-.06,5.3),(.12,6.8),(.06,4),(.18,5.7),(-.12,6.2),(0,4.6),(-.2,3.5),(-.09,3),(.12,2.9),(.24,2.4),(-.03,2.4)],
      wild=[(-.12,70.6),(.14,38.9),(-.01,28.9),(-.01,27.4),(-.18,26.5),(.08,25.2),(-.15,20),(.15,19.4),(-.12,19),(.13,16.8),(.04,15.7),(-.05,15.2),(-.18,11.3),(-.1,11.3),(.16,13.5),(0,13.5),(.1,10),(.19,9.7),(-.15,9.7),(-.02,9),(.07,6.8),(-.085,6.2),(-.15,5.7),(.16,5.3),(0,4.6),(-.2,4),(.1,3.5),(-.05,2.9)],
      mb=[.1,.5,1,2,.2,.8,1.5,0,1.2,.3,.6,.1,1.8,.4,.9,0,1.4,.2,.7,2.2,.1,.5,1.1,.3,.6,0,1.6,.2,.8,.4,1,.1,1.3,.3,.5,0,.9,.2,.7,1.7],
      wb=[.1,.8,2,3.5,.4,1.2,.6,0,1.6,.3,2.5,.2,1,3,.5,1.4,0,.7,2.2,.1,.9,.3,1.8,.5,2.8,.1,.6,1.1,.2,3.2,.4,.8,0,1.5,.3,2.4,.1,.7,1.3,.2]),
]

def panel_box(p):
    ox, oy = origin(*p["cell"])
    X0, X1 = p["X"]; Y0, Y1 = p["Y"]
    sx = alt.Scale(domain=[0.4, 2.6], range=[X0 - ox, X1 - ox], nice=False, zero=False)
    sy = alt.Scale(domain=list(p["dom"]), range=[Y1 - oy, Y0 - oy], nice=False, zero=False)
    ax = alt.Axis(values=[1, 2], labelExpr="datum.value==1?'PTEN Mut':'PTEN Wild'", title=None, grid=False, orient="bottom",
                  offset=(Y1 - oy) - CH, labelFont=SERIF, labelFontSize=8.5, labelColor="#555", tickSize=2.5, tickColor="#333",
                  domainColor="#333", labelPadding=5, labelFlush=False, labelOverlap=False, labelAngle=0)
    ay = alt.Axis(values=p["ticks"], title=None, grid=False, orient="left", offset=-(X0 - ox), labelFont=SERIF, labelFontSize=8,
                  labelColor="#555", tickSize=2.5, tickColor="#333", domainColor="#333", labelPadding=1.5, labelFlush=False, format="d")
    box = pd.DataFrame([{"group": GROUPS[i], "a": i + 1 - .36, "b": i + 1 + .36, "c": i + 1, "q1": b[0], "med": b[1], "q3": b[2], "wlo": b[3], "whi": b[4]}
                        for i, b in enumerate(p["boxes"])])
    rects = alt.Chart(box).mark_rect(stroke="#555", strokeWidth=0.7).encode(
        x=alt.X("a:Q", scale=sx, axis=ax), x2="b:Q",
        y=alt.Y("q1:Q", scale=sy, axis=ay), y2="q3:Q",
        color=alt.Color("group:N", scale=alt.Scale(domain=GROUPS, range=BOX_COLORS),
                        legend=alt.Legend(orient="none", legendX=X0 - ox + 1, legendY=p["leg_y"] - oy, title="PTEN", titleFont=SERIF,
                                          titleFontSize=8, titleFontWeight="normal", titleColor="#444", labelFont=SERIF, labelFontSize=8,
                                          labelColor="#444", symbolType="square", symbolSize=55, symbolStrokeWidth=0.5, symbolStrokeColor="#444",
                                          padding=0, rowPadding=1.5, titlePadding=2, labelOffset=6, symbolOffset=0)))
    whisk = alt.Chart(box).mark_rule(color="#333", strokeWidth=0.7).encode(
        x=alt.X("c:Q", scale=sx), y=alt.Y("wlo:Q", scale=sy), y2="whi:Q")
    med = alt.Chart(box).mark_rule(color="#111", strokeWidth=1.2).encode(
        x=alt.X("a:Q", scale=sx), x2="b:Q", y=alt.Y("med:Q", scale=sy))
    pts = []
    for g, (pk, bk) in enumerate([("mut", "mb"), ("wild", "wb")]):
        for j, v in p[pk]:
            pts.append({"x": g + 1 + j, "y": v})
        for j, v in zip(BASE_JIT, p[bk]):
            pts.append({"x": g + 1 + j, "y": v})
        for j, v in zip(BASE_JIT[5:] + BASE_JIT[:5], p[bk][::-1]):
            pts.append({"x": g + 1 + j * .8, "y": v})
    dots = alt.Chart(pd.DataFrame(pts)).mark_circle(color="#000", size=7, opacity=1).encode(
        x=alt.X("x:Q", scale=sx), y=alt.Y("y:Q", scale=sy))
    ppu = (Y1 - Y0) / (p["dom"][1] - p["dom"][0])
    br = p["br"]; lo = br - 2.5 / ppu
    brd = pd.DataFrame([{"a": 1, "b": 2, "y": br, "y2": br}])
    b1 = alt.Chart(brd).mark_rule(color="#333", strokeWidth=0.8).encode(x=alt.X("a:Q", scale=sx), x2="b:Q", y=alt.Y("y:Q", scale=sy))
    b2 = alt.Chart(pd.DataFrame([{"x": 1, "y": br, "y2": lo}, {"x": 2, "y": br, "y2": lo}])).mark_rule(color="#333", strokeWidth=0.8).encode(
        x=alt.X("x:Q", scale=sx), y=alt.Y("y:Q", scale=sy), y2="y2:Q")
    star = alt.Chart(pd.DataFrame([{"x": 1.5, "y": br}])).mark_text(text="***", font=SERIF, fontSize=8, color="#666", dy=-1.5).encode(
        x=alt.X("x:Q", scale=sx), y=alt.Y("y:Q", scale=sy))
    return alt.layer(rects, whisk, dots, med, b1, b2, star,
                     T(p["gene"], p["title_x"], (Y0 + Y1) / 2 - 2, ox, oy, size=8, angle=270, color="#555"),
                     T("(" + "efghijk"[PANELS.index(p)] + ")", p["cap"][0], p["cap"][1], ox, oy, size=10)
                     ).properties(width=CW, height=CH)

def spacer():
    return alt.Chart(ONE).mark_rect(opacity=0).encode(x=alt.value(10), x2=alt.value(20), y=alt.value(10), y2=alt.value(20)).properties(width=CW, height=CH)

cells = [panel_a(), spacer(), panel_b(), panel_c(), panel_d()] + [panel_box(p) for p in PANELS]
chart = alt.concat(*cells, columns=4, spacing=0, bounds="flush", padding=0).resolve_scale(color="independent").configure_view(strokeWidth=0)
chart.save("out.html", embed_options={"renderer": "svg", "actions": False})
